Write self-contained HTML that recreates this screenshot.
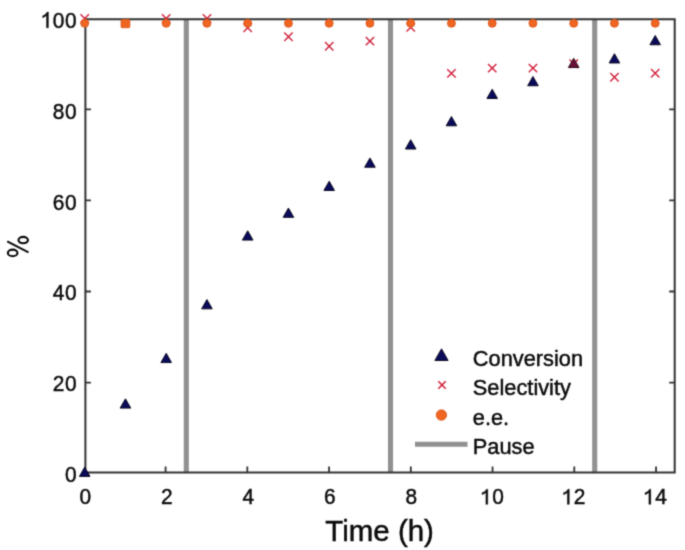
<!DOCTYPE html>
<html><head><meta charset="utf-8"><style>
html,body{margin:0;padding:0;background:#fff;}
svg{display:block;}
text{font-family:"Liberation Sans",sans-serif;fill:#0a0a0a;stroke:#0a0a0a;stroke-width:0.45px;}
</style></head><body>
<svg width="685" height="550" viewBox="0 0 685 550">
<defs><filter id="b" color-interpolation-filters="sRGB" x="0" y="0" width="685" height="550" filterUnits="userSpaceOnUse"><feConvolveMatrix order="3" kernelMatrix="0.02768 0.11101 0.02768 0.11101 0.44521 0.11101 0.02768 0.11101 0.02768" divisor="1" edgeMode="duplicate" preserveAlpha="true"/></filter></defs>
<g filter="url(#b)">
<rect width="685" height="550" fill="#fff"/>
<line x1="186.30" y1="19.20" x2="186.30" y2="472.50" stroke="#919191" stroke-width="5.1"/>
<line x1="390.50" y1="19.20" x2="390.50" y2="472.50" stroke="#919191" stroke-width="5.1"/>
<line x1="594.70" y1="19.20" x2="594.70" y2="472.50" stroke="#919191" stroke-width="5.1"/>
<path d="M85.4,472.5 L85.4,19.2 L674.7,19.2 L674.7,472.5 Z" fill="none" stroke="#323232" stroke-width="2"/>
<path d="M165.59,472.5 v-6 M165.59,19.2 v6 M247.33,472.5 v-6 M247.33,19.2 v6 M329.07,472.5 v-6 M329.07,19.2 v6 M410.81,472.5 v-6 M410.81,19.2 v6 M492.55,472.5 v-6 M492.55,19.2 v6 M574.29,472.5 v-6 M574.29,19.2 v6 M656.03,472.5 v-6 M656.03,19.2 v6 M85.4,382.54 h5.5 M674.7,382.54 h-5.5 M85.4,291.48 h5.5 M674.7,291.48 h-5.5 M85.4,200.42 h5.5 M674.7,200.42 h-5.5 M85.4,109.36 h5.5 M674.7,109.36 h-5.5" stroke="#323232" stroke-width="1.8" fill="none"/>
<path d="M80.50,14.30 L88.90,22.70 M80.50,22.70 L88.90,14.30" stroke="#d01c38" stroke-width="1.35" fill="none"/>
<path d="M162.00,14.30 L170.40,22.70 M162.00,22.70 L170.40,14.30" stroke="#d01c38" stroke-width="1.35" fill="none"/>
<path d="M202.75,14.30 L211.15,22.70 M202.75,22.70 L211.15,14.30" stroke="#d01c38" stroke-width="1.35" fill="none"/>
<path d="M243.50,23.60 L251.90,32.00 M243.50,32.00 L251.90,23.60" stroke="#d01c38" stroke-width="1.35" fill="none"/>
<path d="M284.25,32.60 L292.65,41.00 M284.25,41.00 L292.65,32.60" stroke="#d01c38" stroke-width="1.35" fill="none"/>
<path d="M325.00,42.00 L333.40,50.40 M325.00,50.40 L333.40,42.00" stroke="#d01c38" stroke-width="1.35" fill="none"/>
<path d="M365.75,36.90 L374.15,45.30 M365.75,45.30 L374.15,36.90" stroke="#d01c38" stroke-width="1.35" fill="none"/>
<path d="M406.50,23.20 L414.90,31.60 M406.50,31.60 L414.90,23.20" stroke="#d01c38" stroke-width="1.35" fill="none"/>
<path d="M447.25,69.20 L455.65,77.60 M447.25,77.60 L455.65,69.20" stroke="#d01c38" stroke-width="1.35" fill="none"/>
<path d="M488.00,63.90 L496.40,72.30 M488.00,72.30 L496.40,63.90" stroke="#d01c38" stroke-width="1.35" fill="none"/>
<path d="M528.75,63.90 L537.15,72.30 M528.75,72.30 L537.15,63.90" stroke="#d01c38" stroke-width="1.35" fill="none"/>
<path d="M569.50,59.50 L577.90,67.90 M569.50,67.90 L577.90,59.50" stroke="#d01c38" stroke-width="1.35" fill="none"/>
<path d="M610.25,73.10 L618.65,81.50 M610.25,81.50 L618.65,73.10" stroke="#d01c38" stroke-width="1.35" fill="none"/>
<path d="M651.00,69.00 L659.40,77.40 M651.00,77.40 L659.40,69.00" stroke="#d01c38" stroke-width="1.35" fill="none"/>
<path d="M84.70,467.10 L90.00,476.40 L79.40,476.40 Z" fill="#0b0b5c" stroke="#000014" stroke-width="0.9" stroke-linejoin="miter"/>
<path d="M125.45,398.81 L130.75,408.11 L120.15,408.11 Z" fill="#0b0b5c" stroke="#000014" stroke-width="0.9" stroke-linejoin="miter"/>
<path d="M166.20,353.28 L171.50,362.58 L160.90,362.58 Z" fill="#0b0b5c" stroke="#000014" stroke-width="0.9" stroke-linejoin="miter"/>
<path d="M206.95,299.55 L212.25,308.85 L201.65,308.85 Z" fill="#0b0b5c" stroke="#000014" stroke-width="0.9" stroke-linejoin="miter"/>
<path d="M247.70,230.80 L253.00,240.10 L242.40,240.10 Z" fill="#0b0b5c" stroke="#000014" stroke-width="0.9" stroke-linejoin="miter"/>
<path d="M288.45,208.03 L293.75,217.33 L283.15,217.33 Z" fill="#0b0b5c" stroke="#000014" stroke-width="0.9" stroke-linejoin="miter"/>
<path d="M329.20,181.17 L334.50,190.47 L323.90,190.47 Z" fill="#0b0b5c" stroke="#000014" stroke-width="0.9" stroke-linejoin="miter"/>
<path d="M369.95,157.95 L375.25,167.25 L364.65,167.25 Z" fill="#0b0b5c" stroke="#000014" stroke-width="0.9" stroke-linejoin="miter"/>
<path d="M410.70,139.74 L416.00,149.04 L405.40,149.04 Z" fill="#0b0b5c" stroke="#000014" stroke-width="0.9" stroke-linejoin="miter"/>
<path d="M451.45,116.52 L456.75,125.82 L446.15,125.82 Z" fill="#0b0b5c" stroke="#000014" stroke-width="0.9" stroke-linejoin="miter"/>
<path d="M492.20,89.20 L497.50,98.50 L486.90,98.50 Z" fill="#0b0b5c" stroke="#000014" stroke-width="0.9" stroke-linejoin="miter"/>
<path d="M532.95,76.45 L538.25,85.75 L527.65,85.75 Z" fill="#0b0b5c" stroke="#000014" stroke-width="0.9" stroke-linejoin="miter"/>
<path d="M573.70,58.24 L579.00,67.54 L568.40,67.54 Z" fill="#6a1038" stroke="#1c0412" stroke-width="0.9" stroke-linejoin="miter"/>
<path d="M614.45,53.69 L619.75,62.99 L609.15,62.99 Z" fill="#0b0b5c" stroke="#000014" stroke-width="0.9" stroke-linejoin="miter"/>
<path d="M655.20,35.48 L660.50,44.78 L649.90,44.78 Z" fill="#0b0b5c" stroke="#000014" stroke-width="0.9" stroke-linejoin="miter"/>
<circle cx="84.70" cy="23.30" r="4.0" fill="#ef6522" stroke="#d9541a" stroke-width="0.8"/>
<rect x="121.05" y="19.5" width="8.8" height="8.2" rx="1.0" fill="#ef6522" stroke="#d9541a" stroke-width="0.8"/>
<circle cx="166.20" cy="23.30" r="4.0" fill="#ef6522" stroke="#d9541a" stroke-width="0.8"/>
<circle cx="206.95" cy="23.30" r="4.0" fill="#ef6522" stroke="#d9541a" stroke-width="0.8"/>
<circle cx="247.70" cy="23.30" r="4.0" fill="#ef6522" stroke="#d9541a" stroke-width="0.8"/>
<circle cx="288.45" cy="23.30" r="4.0" fill="#ef6522" stroke="#d9541a" stroke-width="0.8"/>
<circle cx="329.20" cy="23.30" r="4.0" fill="#ef6522" stroke="#d9541a" stroke-width="0.8"/>
<circle cx="369.95" cy="23.30" r="4.0" fill="#ef6522" stroke="#d9541a" stroke-width="0.8"/>
<circle cx="410.70" cy="23.30" r="4.0" fill="#ef6522" stroke="#d9541a" stroke-width="0.8"/>
<circle cx="451.45" cy="23.30" r="4.0" fill="#ef6522" stroke="#d9541a" stroke-width="0.8"/>
<circle cx="492.20" cy="23.30" r="4.0" fill="#ef6522" stroke="#d9541a" stroke-width="0.8"/>
<circle cx="532.95" cy="23.30" r="4.0" fill="#ef6522" stroke="#d9541a" stroke-width="0.8"/>
<circle cx="573.70" cy="23.30" r="4.0" fill="#ef6522" stroke="#d9541a" stroke-width="0.8"/>
<circle cx="614.45" cy="23.30" r="4.0" fill="#ef6522" stroke="#d9541a" stroke-width="0.8"/>
<circle cx="655.20" cy="23.30" r="4.0" fill="#ef6522" stroke="#d9541a" stroke-width="0.8"/>
<text transform="translate(85.20,504.30) scale(0.95,1.0)" x="0" y="0" text-anchor="middle" font-size="22">0</text>
<text transform="translate(166.70,504.30) scale(0.95,1.0)" x="0" y="0" text-anchor="middle" font-size="22">2</text>
<text transform="translate(248.20,504.30) scale(0.95,1.0)" x="0" y="0" text-anchor="middle" font-size="22">4</text>
<text transform="translate(329.70,504.30) scale(0.95,1.0)" x="0" y="0" text-anchor="middle" font-size="22">6</text>
<text transform="translate(411.20,504.30) scale(0.95,1.0)" x="0" y="0" text-anchor="middle" font-size="22">8</text>
<path d="M583,0 L763,0 L763,1409 L646,1409 C600,1315 500,1220 380,1150 C320,1115 260,1095 205,1080 L205,905 C360,952 500,1040 583,1108 Z" transform="translate(485.78,504.30) scale(0.95,1.0) translate(-6.118,0) scale(0.01074,-0.01074)" fill="#0a0a0a" stroke="#0a0a0a" stroke-width="0.45" vector-effect="non-scaling-stroke"/><text transform="translate(498.02,504.30) scale(0.95,1.0)" x="0" y="0" text-anchor="middle" font-size="22">0</text>
<path d="M583,0 L763,0 L763,1409 L646,1409 C600,1315 500,1220 380,1150 C320,1115 260,1095 205,1080 L205,905 C360,952 500,1040 583,1108 Z" transform="translate(567.28,504.30) scale(0.95,1.0) translate(-6.118,0) scale(0.01074,-0.01074)" fill="#0a0a0a" stroke="#0a0a0a" stroke-width="0.45" vector-effect="non-scaling-stroke"/><text transform="translate(579.52,504.30) scale(0.95,1.0)" x="0" y="0" text-anchor="middle" font-size="22">2</text>
<path d="M583,0 L763,0 L763,1409 L646,1409 C600,1315 500,1220 380,1150 C320,1115 260,1095 205,1080 L205,905 C360,952 500,1040 583,1108 Z" transform="translate(648.78,504.30) scale(0.95,1.0) translate(-6.118,0) scale(0.01074,-0.01074)" fill="#0a0a0a" stroke="#0a0a0a" stroke-width="0.45" vector-effect="non-scaling-stroke"/><text transform="translate(661.02,504.30) scale(0.95,1.0)" x="0" y="0" text-anchor="middle" font-size="22">4</text>
<text transform="translate(70.88,482.30) scale(0.95,1.04)" x="0" y="0" text-anchor="middle" font-size="22">0</text>
<text transform="translate(58.65,391.40) scale(0.95,1.04)" x="0" y="0" text-anchor="middle" font-size="22">2</text><text transform="translate(70.88,391.40) scale(0.95,1.04)" x="0" y="0" text-anchor="middle" font-size="22">0</text>
<text transform="translate(58.65,300.40) scale(0.95,1.04)" x="0" y="0" text-anchor="middle" font-size="22">4</text><text transform="translate(70.88,300.40) scale(0.95,1.04)" x="0" y="0" text-anchor="middle" font-size="22">0</text>
<text transform="translate(58.65,210.15) scale(0.95,1.04)" x="0" y="0" text-anchor="middle" font-size="22">6</text><text transform="translate(70.88,210.15) scale(0.95,1.04)" x="0" y="0" text-anchor="middle" font-size="22">0</text>
<text transform="translate(58.65,118.90) scale(0.95,1.04)" x="0" y="0" text-anchor="middle" font-size="22">8</text><text transform="translate(70.88,118.90) scale(0.95,1.04)" x="0" y="0" text-anchor="middle" font-size="22">0</text>
<path d="M583,0 L763,0 L763,1409 L646,1409 C600,1315 500,1220 380,1150 C320,1115 260,1095 205,1080 L205,905 C360,952 500,1040 583,1108 Z" transform="translate(46.41,27.80) scale(0.95,1.04) translate(-6.118,0) scale(0.01074,-0.01074)" fill="#0a0a0a" stroke="#0a0a0a" stroke-width="0.45" vector-effect="non-scaling-stroke"/><text transform="translate(58.65,27.80) scale(0.95,1.04)" x="0" y="0" text-anchor="middle" font-size="22">0</text><text transform="translate(70.88,27.80) scale(0.95,1.04)" x="0" y="0" text-anchor="middle" font-size="22">0</text>
<text x="379.6" y="540.7" text-anchor="middle" font-size="29.5">Time (h)</text>
<g fill="none" stroke="#0a0a0a"><ellipse cx="23.2" cy="240.1" rx="4.75" ry="3.2" stroke-width="2.1"/><ellipse cx="12.65" cy="252.9" rx="4.8" ry="3.3" stroke-width="2.1"/><line x1="7.2" y1="241.3" x2="28.5" y2="252.3" stroke-width="1.9"/></g>
<path d="M441.50,348.85 L448.12,360.48 L434.88,360.48 Z" fill="#0b0b5c" stroke="#000014" stroke-width="0.9" stroke-linejoin="miter"/>
<path d="M438.30,381.30 L445.70,388.70 M438.30,388.70 L445.70,381.30" stroke="#d01c38" stroke-width="1.5" fill="none"/>
<circle cx="441.40" cy="415.00" r="5.2" fill="#ef6522" stroke="#d9541a" stroke-width="0.8"/>
<line x1="415" y1="444.2" x2="467.5" y2="444.2" stroke="#919191" stroke-width="5"/>
<text x="472.8" y="366.20" font-size="21.8">Conversion</text>
<text x="472.8" y="395.40" font-size="21.8">Selectivity</text>
<text x="472.8" y="424.60" font-size="21.8">e.e.</text>
<text x="472.8" y="453.80" font-size="21.8">Pause</text>
</g>
</svg>
</body></html>
